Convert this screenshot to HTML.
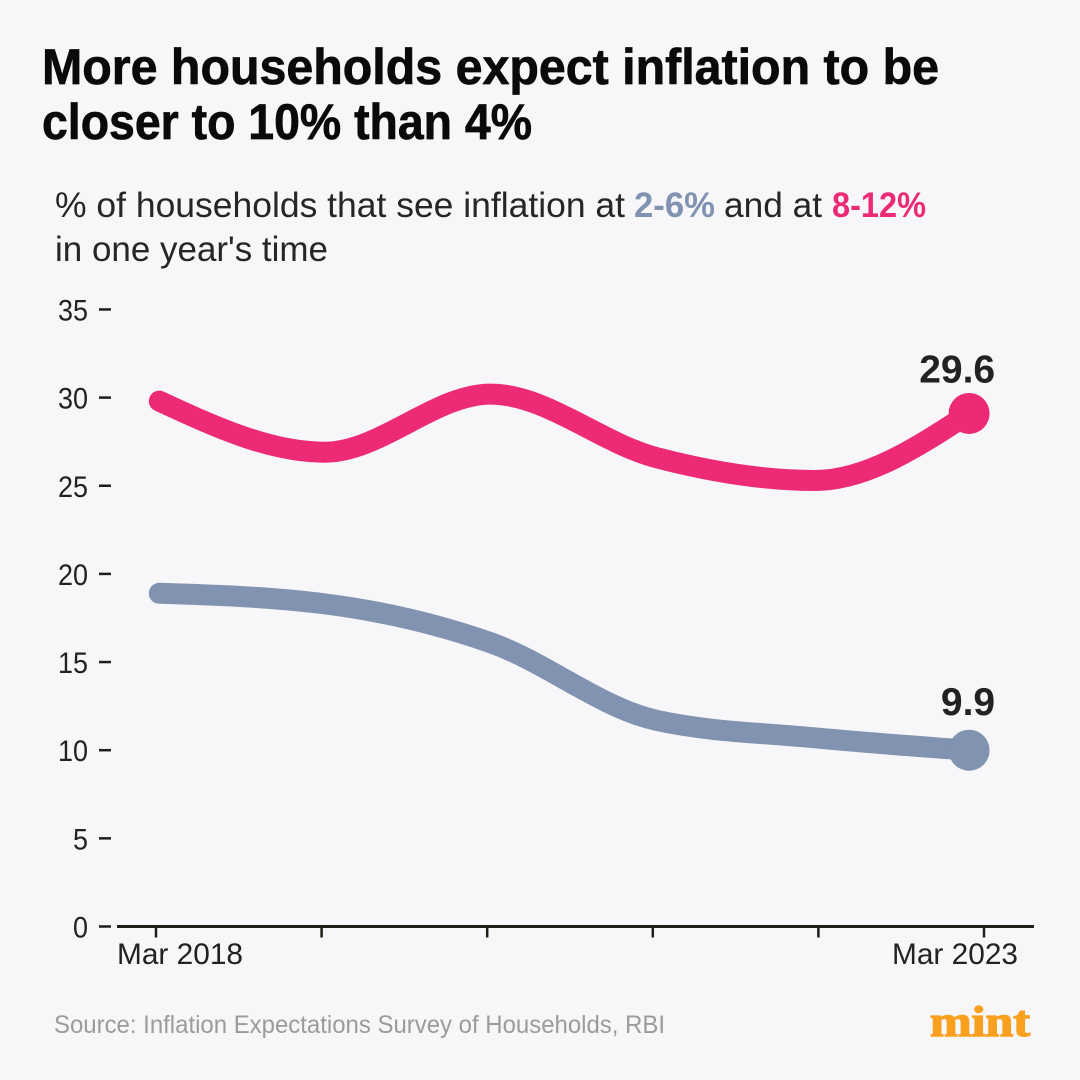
<!DOCTYPE html>
<html lang="en">
<head>
<meta charset="utf-8">
<title>More households expect inflation to be closer to 10% than 4%</title>
<style>
  html, body { margin: 0; padding: 0; background: #f7f7fa; }
  svg { display: block; }
  text { font-family: "Liberation Sans", sans-serif; }
</style>
</head>
<body>
<svg id="chart" xmlns="http://www.w3.org/2000/svg" width="1080" height="1080" viewBox="0 0 1080 1080">
  <rect x="0" y="0" width="1080" height="1080" fill="#f7f7fa"/>
  <g font-weight="700" font-size="50" fill="#0a0a0a" stroke="#0a0a0a" stroke-width="0.7">
    <text x="42" y="84" textLength="897" lengthAdjust="spacingAndGlyphs">More households expect inflation to be</text>
    <text x="42" y="139" textLength="490" lengthAdjust="spacingAndGlyphs">closer to 10% than 4%</text>
  </g>
  <g font-size="35" fill="#262626">
    <text x="55" y="217" textLength="570" lengthAdjust="spacingAndGlyphs">% of households that see inflation at</text>
    <text x="634" y="217" font-weight="700" fill="#8193b1" textLength="81" lengthAdjust="spacingAndGlyphs">2-6%</text>
    <text x="724" y="217" textLength="98" lengthAdjust="spacingAndGlyphs">and at</text>
    <text x="832" y="217" font-weight="700" fill="#ec2a76" textLength="94" lengthAdjust="spacingAndGlyphs">8-12%</text>
    <text x="55" y="261" textLength="273" lengthAdjust="spacingAndGlyphs">in one year's time</text>
  </g>
  <g id="y-axis"></g>
  <g id="x-axis"></g>
  <g id="series"></g>
  <text x="54" y="1033" font-size="25" fill="#9b9b9b" textLength="611" lengthAdjust="spacingAndGlyphs">Source: Inflation Expectations Survey of Households, RBI</text>
  <text x="930" y="1036" font-size="43" font-weight="700" fill="#f9a01f" stroke="#f9a01f" stroke-width="1.4" textLength="100" lengthAdjust="spacingAndGlyphs" style="font-family:'Liberation Serif',serif">mint</text>
</svg>
<script>
// Chart data
var yTickValues = [0, 5, 10, 15, 20, 25, 30, 35];
var xTickValues = [0, 1, 2, 3, 4, 5];
var xTickLabels = ["Mar 2018", "", "", "", "", "Mar 2023"];
var yearsSinceStart = [0.02, 1.02, 2.02, 3.02, 3.98, 4.91];
var highRangeValues = [29.8, 26.9, 30.2, 26.6, 25.3, 29.1];
var lowRangeValues = [18.9, 18.3, 16.1, 11.7, 10.7, 10.0];
var highRangeLabel = "29.6";
var lowRangeLabel = "9.9";

var SVG_NS = "http://www.w3.org/2000/svg";

function xScale(v) { return 156 + v * 165.6; }
function yScale(v) { return 926.5 - v * 17.63; }

function make(tag, attrs, parent, content) {
  var el = document.createElementNS(SVG_NS, tag);
  for (var k in attrs) { el.setAttribute(k, attrs[k]); }
  if (content !== undefined) { el.textContent = content; }
  parent.appendChild(el);
  return el;
}

// Monotone cubic interpolation through the data points
function monotonePath(xs, ys) {
  var n = xs.length, slopes = [], tangents = [], i;
  for (i = 0; i < n - 1; i++) { slopes.push((ys[i + 1] - ys[i]) / (xs[i + 1] - xs[i])); }
  for (i = 1; i < n - 1; i++) {
    if (slopes[i - 1] * slopes[i] <= 0) { tangents[i] = 0; }
    else {
      var h0 = xs[i] - xs[i - 1], h1 = xs[i + 1] - xs[i];
      var p = (slopes[i - 1] * h1 + slopes[i] * h0) / (h0 + h1);
      var s = slopes[i] > 0 ? 1 : -1;
      tangents[i] = s * Math.min(Math.abs(slopes[i - 1]), Math.abs(slopes[i]), 0.5 * Math.abs(p)) * 2;
    }
  }
  tangents[0] = (3 * slopes[0] - tangents[1]) / 2;
  tangents[n - 1] = (3 * slopes[n - 2] - tangents[n - 2]) / 2;
  var d = "M" + xs[0] + "," + ys[0];
  for (i = 0; i < n - 1; i++) {
    var dx = (xs[i + 1] - xs[i]) / 3;
    d += "C" + (xs[i] + dx) + "," + (ys[i] + dx * tangents[i]) + " " +
         (xs[i + 1] - dx) + "," + (ys[i + 1] - dx * tangents[i + 1]) + " " +
         xs[i + 1] + "," + ys[i + 1];
  }
  return d;
}

var yAxis = document.getElementById("y-axis");
var xAxis = document.getElementById("x-axis");
var seriesGroup = document.getElementById("series");

yTickValues.forEach(function (v) {
  var y = yScale(v);
  var mark = make("line", { x1: 99, x2: 111, y1: y, y2: y, stroke: "#1f1f1f", "stroke-width": 2.5 }, yAxis);
  
  
  var text = String(v);
  var label = make("text", { x: 88 - 15 * text.length, y: y + 11, "font-size": 30, fill: "#222", textLength: 15 * text.length, lengthAdjust: "spacingAndGlyphs" }, yAxis, text);
  
  
});

var axisLine = make("line", { x1: 117, x2: 1034, y1: yScale(0), y2: yScale(0), stroke: "#1f1d18", "stroke-width": 3 }, xAxis);



xTickValues.forEach(function (v, i) {
  var x = xScale(v);
  var mark = make("line", { x1: x, x2: x, y1: yScale(0), y2: yScale(0) + 11, stroke: "#1f1d18", "stroke-width": 2.5 }, xAxis);
  
  
  if (xTickLabels[i]) {
    var label = make("text", { x: i === 0 ? 117 : 892, y: 964, "font-size": 30, fill: "#222", textLength: 126, lengthAdjust: "spacingAndGlyphs" }, xAxis, xTickLabels[i]);
    
    
  }
});

function drawSeries(values, color, printedLabel, labelOffset, lineName, markerName, labelName) {
  var xs = yearsSinceStart.map(xScale);
  var ys = values.map(yScale);
  var path = make("path", { d: monotonePath(xs, ys), fill: "none", stroke: color, "stroke-width": 21, "stroke-linecap": "round" }, seriesGroup);
  
  
  var last = xs.length - 1;
  var marker = make("circle", { cx: xs[last], cy: ys[last], r: 20.5, fill: color }, seriesGroup);
  
  
  var label = make("text", { x: xs[last] + 26, y: ys[last] - labelOffset, "text-anchor": "end", "font-size": 39, "font-weight": 700, fill: "#222" }, seriesGroup, printedLabel);
  
  
}

drawSeries(highRangeValues, "#ec2a76", highRangeLabel, 31, "line-8-12-percent", "end-marker-8-12-percent", "end-label-8-12-percent");
drawSeries(lowRangeValues, "#8193b1", lowRangeLabel, 35, "line-2-6-percent", "end-marker-2-6-percent", "end-label-2-6-percent");
</script>
</body>
</html>
